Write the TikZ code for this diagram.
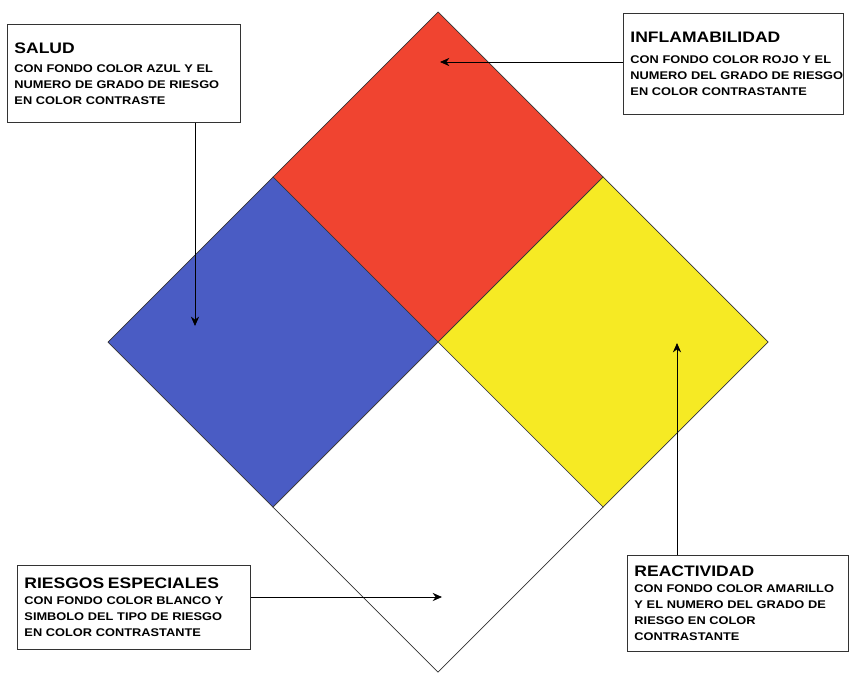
\documentclass[tikz,border=0pt]{standalone}
\usepackage{fontspec}
\setmainfont{Liberation Sans}
\newfontfamily\cuadrofont[FakeStretch=1.15]{Liberation Sans}
\usetikzlibrary{arrows.meta}

\definecolor{azulnfpa}{RGB}{74,92,196}
\definecolor{rojonfpa}{RGB}{240,68,48}
\definecolor{amarillonfpa}{RGB}{246,234,36}

\newcommand{\titulo}[1]{{\fontsize{13}{15}\selectfont #1}}

\tikzset{
  rombo/.style={draw=black!80, line width=0.6pt},
  cuadro/.style={draw=black!80, line width=0.8pt, rectangle, anchor=north west, align=left,
    inner xsep=0.21cm, font=\cuadrofont\bfseries\fontsize{9.5}{13.6}\selectfont},
  flecha/.style={->, line width=0.7pt, >={Stealth[length=8pt,width=7pt]}}
}

\begin{document}
\begin{tikzpicture}[x=0.03cm, y=-0.03cm]
\useasboundingbox (0,0) rectangle (851,673);
\filldraw[rombo, fill=rojonfpa] (438,12) -- (603,177) -- (438,342) -- (273,177) -- cycle;
\filldraw[rombo, fill=azulnfpa] (273,177) -- (438,342) -- (273,507) -- (108,342) -- cycle;
\filldraw[rombo, fill=amarillonfpa] (603,177) -- (768,342) -- (603,507) -- (438,342) -- cycle;
\filldraw[rombo, fill=white] (438,342) -- (603,507) -- (438,672) -- (273,507) -- cycle;

\node[cuadro, minimum width=6.99cm, minimum height=2.94cm, text width=6.57cm] (salud) at (7,24)
  {\titulo{SALUD}\\[3pt] CON FONDO COLOR AZUL Y EL\\ NUMERO DE GRADO DE RIESGO\\ EN COLOR CONTRASTE};
\node[cuadro, minimum width=6.6cm, minimum height=3.03cm, text width=6.18cm] (inflam) at (623,13)
  {\titulo{INFLAMABILIDAD}\\[4pt] CON FONDO COLOR ROJO Y EL\\ \mbox{NUMERO DEL GRADO DE RIESGO}\\ EN COLOR CONTRASTANTE};
\node[cuadro, minimum width=6.99cm, minimum height=2.52cm, text width=6.57cm] (riesgos) at (17,565)
  {\titulo{RIESGOS ESPECIALES}\\ CON FONDO COLOR BLANCO Y\\ SIMBOLO DEL TIPO DE RIESGO\\ EN COLOR CONTRASTANTE};
\node[cuadro, minimum width=6.63cm, minimum height=2.88cm, text width=6.21cm] (react) at (627,555)
  {\titulo{REACTIVIDAD}\\ CON FONDO COLOR AMARILLO\\ Y EL NUMERO DEL GRADO DE\\ RIESGO EN COLOR\\ CONTRASTANTE};

\coordinate (pSalud) at (195,326);
\coordinate (pInflam) at (440,62);
\coordinate (pRiesgos) at (442,597);
\coordinate (pReact) at (677,343);
\draw[flecha] (salud.south -| pSalud) -- (pSalud);
\draw[flecha] (inflam.west |- pInflam) -- (pInflam);
\draw[flecha] (riesgos.east |- pRiesgos) -- (pRiesgos);
\draw[flecha] (react.north -| pReact) -- (pReact);
\end{tikzpicture}
\end{document}
